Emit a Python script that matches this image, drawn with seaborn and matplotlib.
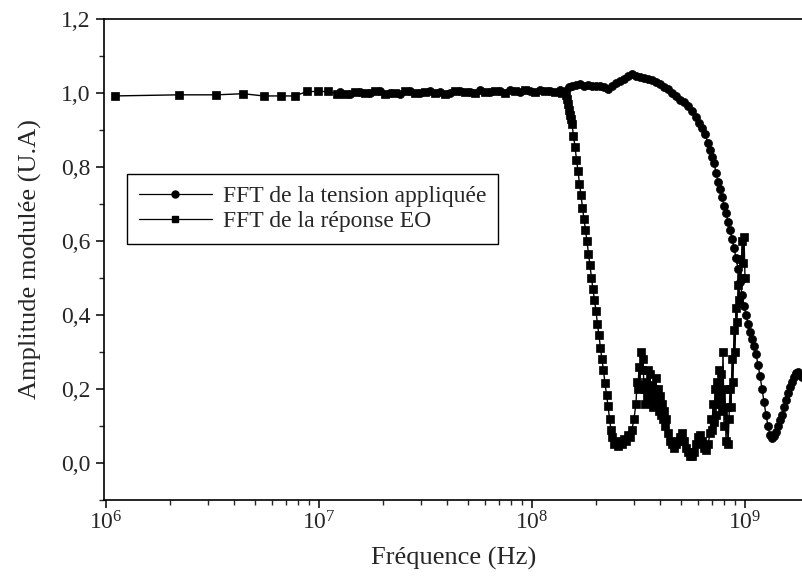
import numpy as np
import pandas as pd
import seaborn as sns
import matplotlib.pyplot as plt
from matplotlib.lines import Line2D
from matplotlib.ticker import MultipleLocator

# values, frequencies in MHz

# FFT de la reponse EO (squares)
eo_freq_low = [1.1, 2.2, 3.3, 4.4, 5.5, 6.6, 7.7, 8.8, 9.9, 11.0, 12.1]
eo_amp_low = [0.992, 0.995, 0.995, 0.998, 0.992, 0.992, 0.992, 1.004, 1.004, 1.004, 0.998]

eo_freq_flat = [13.25, 14.76, 16.44, 18.32, 20.41, 22.74, 25.33, 28.23, 31.45, 35.04,
                39.04, 43.50, 48.46, 54.0, 60.16, 67.03, 74.67, 83.20, 92.70, 103.3,
                115.1, 128.2, 138.3]
eo_amp_flat = [0.998, 1.002, 1.0, 1.004, 0.997, 1.001, 1.005, 0.999, 1.003, 1.0,
               0.998, 1.004, 1.002, 0.999, 1.003, 1.006, 1.001, 1.004, 1.007, 1.002,
               1.005, 1.003, 1.0]

eo_freq_drop = [144.4, 146.0, 147.6, 149.2, 150.8, 152.4, 154.1, 156.6, 159.2, 161.8,
                164.4, 167.1, 169.8, 172.6, 175.4, 178.3, 181.2, 184.2, 187.2, 190.2,
                193.4, 196.5, 199.8, 203.0, 206.3, 209.7, 213.1, 216.6, 220.2, 223.8,
                227.4, 231.2, 234.9, 238.7]
eo_amp_drop = [0.995, 0.985, 0.97, 0.955, 0.94, 0.93, 0.915, 0.885, 0.855, 0.82,
               0.79, 0.755, 0.725, 0.69, 0.66, 0.63, 0.60, 0.565, 0.535, 0.50,
               0.47, 0.44, 0.41, 0.375, 0.345, 0.31, 0.28, 0.25, 0.215, 0.185,
               0.155, 0.12, 0.09, 0.07]

eo_freq_noise = [242.7, 248.0, 253.4, 259.0, 264.6, 270.4, 276.3, 282.3, 288.5, 294.8,
                 301.2, 307.8, 311.2, 314.6, 318.0, 321.4, 324.9, 328.5, 332.0, 335.6,
                 339.3, 343.0, 346.7, 350.5, 354.3, 358.1, 362.0, 366.0, 369.9, 373.9,
                 378.0, 382.1, 386.3, 390.5, 394.7, 399.0, 403.3, 407.7, 412.2, 416.6,
                 421.2, 425.8, 435.1, 444.6, 454.3, 464.2, 474.3, 484.7, 495.3, 506.1,
                 517.2, 528.5, 540.0, 551.8, 563.9, 576.2, 588.8, 601.7, 614.8, 628.3,
                 642.0, 656.0, 670.4, 685.0, 692.5, 700.0, 707.6, 715.3, 723.1, 731.0,
                 738.9, 747.0, 755.1, 763.3, 771.6, 780.0, 788.5, 797.0, 805.7, 814.5,
                 823.3, 832.3, 841.3, 850.5, 859.7, 869.1, 878.5, 888.1, 897.7, 907.5,
                 917.4, 927.3, 937.4, 947.6, 957.9, 968.3, 978.8, 989.5, 1000.2]
eo_amp_noise = [0.05, 0.055, 0.045, 0.06, 0.05, 0.065, 0.06, 0.075, 0.07, 0.09,
                0.12, 0.16, 0.22, 0.2, 0.26, 0.21, 0.3, 0.25, 0.28, 0.2,
                0.16, 0.22, 0.18, 0.25, 0.2, 0.24, 0.17, 0.21, 0.15, 0.2,
                0.18, 0.23, 0.16, 0.2, 0.14, 0.18, 0.13, 0.16, 0.12, 0.14,
                0.1, 0.12, 0.08, 0.06, 0.05, 0.04, 0.05, 0.06, 0.07, 0.08,
                0.06, 0.04, 0.03, 0.02, 0.02, 0.03, 0.05, 0.07, 0.075, 0.06,
                0.04, 0.035, 0.05, 0.08, 0.12, 0.09, 0.16, 0.11, 0.2, 0.13,
                0.22, 0.16, 0.25, 0.18, 0.24, 0.14, 0.3, 0.1, 0.2, 0.06,
                0.15, 0.05, 0.12, 0.2, 0.15, 0.28, 0.22, 0.36, 0.3, 0.42,
                0.38, 0.48, 0.44, 0.55, 0.5, 0.6, 0.54, 0.61, 0.5]

# FFT de la tension appliquee (circles)
tension_freq_flat = [12.55, 13.98, 15.58, 17.36, 19.34, 21.54, 24.01, 26.75, 29.8, 33.2,
                     36.99, 41.21, 45.92, 51.16, 57.0, 63.5, 70.76, 78.83, 87.83, 97.87,
                     109.0, 121.5, 135.3, 142.9]
tension_amp_flat = [1.002, 0.997, 1.003, 0.999, 1.005, 1.001, 0.996, 1.004, 1.0, 1.006,
                    1.002, 0.999, 1.005, 1.003, 1.007, 1.002, 1.005, 1.008, 1.003, 1.006,
                    1.009, 1.004, 1.008, 1.005]

tension_freq_top = [149.2, 154.1, 160.9, 168.0, 175.4, 183.2, 191.3, 199.8, 208.6, 217.8,
                    227.4, 237.5, 248.0, 259.0, 270.4, 282.3, 294.8, 307.8, 321.4, 335.6,
                    350.5, 366.0, 382.1, 399.0, 416.6, 435.1]
tension_amp_top = [1.015, 1.02, 1.022, 1.023, 1.02, 1.022, 1.018, 1.02, 1.018, 1.015,
                   1.012, 1.02, 1.028, 1.033, 1.037, 1.045, 1.052, 1.047, 1.042, 1.04,
                   1.038, 1.035, 1.03, 1.024, 1.017, 1.01]

tension_freq_fall = [454.3, 474.3, 495.3, 517.2, 540.0, 563.9, 588.8, 608.2, 628.3, 649.0,
                     670.4, 685.0, 700.0, 715.3, 731.0, 747.0, 763.3, 780.0, 797.0, 814.5,
                     832.3, 850.5, 869.1, 888.1, 907.5, 927.3, 947.6, 968.3, 989.5, 1011.1,
                     1033.2, 1055.8, 1078.9, 1102.5, 1126.6, 1151.2, 1176.4, 1202.1, 1228.4, 1255.2,
                     1282.7, 1310.7, 1339.4, 1368.7, 1398.6, 1429.2, 1460.4, 1492.3, 1524.9, 1558.3,
                     1592.3, 1627.1, 1662.7, 1699.1, 1736.2, 1774.2, 1813.0, 1852.6]
tension_amp_fall = [1.0, 0.992, 0.982, 0.975, 0.965, 0.952, 0.935, 0.92, 0.905, 0.888,
                    0.865, 0.845, 0.828, 0.81, 0.785, 0.76, 0.74, 0.72, 0.695, 0.675,
                    0.65, 0.63, 0.605, 0.58, 0.555, 0.525, 0.49, 0.455, 0.425, 0.4,
                    0.375, 0.355, 0.335, 0.315, 0.295, 0.265, 0.235, 0.2, 0.165, 0.13,
                    0.1, 0.075, 0.067, 0.072, 0.085, 0.1, 0.115, 0.13, 0.15, 0.17,
                    0.19, 0.205, 0.22, 0.232, 0.242, 0.245, 0.238, 0.232]

y_ticks = [0.0, 0.2, 0.4, 0.6, 0.8, 1.0, 1.2]
y_tick_labels = ['0,0', '0,2', '0,4', '0,6', '0,8', '1,0', '1,2']
series_labels = ['FFT de la tension appliquée', 'FFT de la réponse EO']

sns.set_style('ticks')
plt.rcParams['font.family'] = ['Liberation Serif', 'DejaVu Serif']
plt.rcParams['mathtext.default'] = 'regular'

df_eo = pd.DataFrame({
    'freq': np.array(eo_freq_low + eo_freq_flat + eo_freq_drop + eo_freq_noise) * 1e6,
    'amp': eo_amp_low + eo_amp_flat + eo_amp_drop + eo_amp_noise,
})
df_tension = pd.DataFrame({
    'freq': np.array(tension_freq_flat + tension_freq_top + tension_freq_fall) * 1e6,
    'amp': tension_amp_flat + tension_amp_top + tension_amp_fall,
})

fig = plt.figure(figsize=(8.03, 5.82), dpi=100)
ax = fig.add_axes([0.1295, 0.1409, 0.8705, 0.8265])

sns.lineplot(data=df_tension, x='freq', y='amp', ax=ax, estimator=None, sort=False,
             color='black', lw=1.0, marker='o', ms=5.8, mec='black', mew=0.5)
sns.lineplot(data=df_eo, x='freq', y='amp', ax=ax, estimator=None, sort=False,
             color='black', lw=1.0, marker='s', ms=5.4, mec='black', mew=0.5)

ax.set_xscale('log')
ax.set_xlim(0.979e6, 1.872e9)
ax.set_ylim(-0.1, 1.2)
ax.set_yticks(y_ticks)
ax.set_yticklabels(y_tick_labels)
ax.yaxis.set_minor_locator(MultipleLocator(0.1))

ax.set_xlabel('Fréquence (Hz)', fontsize=19, labelpad=9)
ax.set_ylabel('Amplitude modulée (U.A)', fontsize=19, labelpad=14)
ax.tick_params(axis='both', which='major', direction='out', length=6, width=1.1,
               labelsize=17, color='black')
ax.tick_params(axis='both', which='minor', direction='out', length=3.5, width=1.0)
ax.tick_params(axis='x', which='major', pad=2)

for side in ['left', 'bottom', 'top']:
    ax.spines[side].set_linewidth(1.2)
    ax.spines[side].set_color('black')
ax.spines['right'].set_visible(False)

handles = [
    Line2D([], [], color='black', lw=0.9, marker='o', ms=5),
    Line2D([], [], color='black', lw=0.9, marker='s', ms=4.5),
]
leg = ax.legend(handles, series_labels, loc='upper left', bbox_to_anchor=(0.033, 0.678),
                borderaxespad=0, fontsize=17, frameon=True, fancybox=False,
                edgecolor='black', framealpha=1, handlelength=3.1, handletextpad=0.45,
                borderpad=0.5, labelspacing=0.15)
leg.get_frame().set_linewidth(1.0)

fig.savefig('out.png', dpi=100)
